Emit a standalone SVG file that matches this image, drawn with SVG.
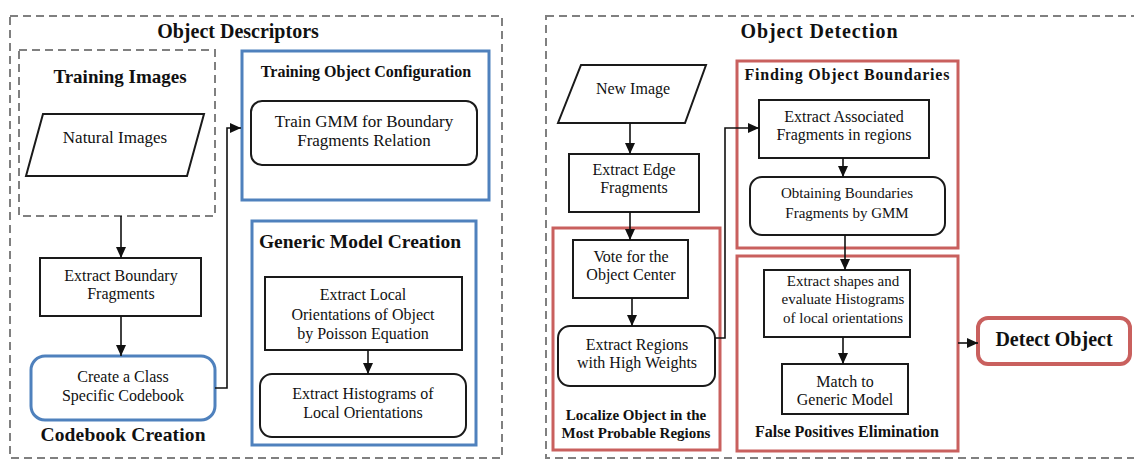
<svg xmlns="http://www.w3.org/2000/svg" width="1134" height="461" viewBox="0 0 1134 461">
<style>
text{font-family:"Liberation Serif","DejaVu Serif",serif;fill:#111;text-anchor:middle}
.t{font-size:16px}
.ts{font-size:15px}
.h{font-weight:bold;font-size:19.5px}
.hs{font-weight:bold;font-size:15px}
.box{fill:#fff;stroke:#1a1a1a;stroke-width:2}
.dash{fill:none;stroke:#808080;stroke-width:2;stroke-dasharray:8 5}
.blue{fill:none;stroke:#4f81bd;stroke-width:3}
.blueb{fill:#fff;stroke:#4f81bd;stroke-width:3}
.red{fill:none;stroke:#c9605e;stroke-width:3}
.redb{fill:#fff;stroke:#c9605e;stroke-width:4}
.c{fill:none;stroke:#111;stroke-width:1.6}
</style>
<defs>
<marker id="ah" markerUnits="userSpaceOnUse" markerWidth="11" markerHeight="10" refX="11" refY="5" orient="auto">
<path d="M0,0 L11,5 L0,10 z" fill="#111"/>
</marker>
</defs>
<rect width="1134" height="461" fill="#fff"/>

<g id="object-descriptors">
<rect class="dash" x="10" y="16" width="492" height="442"/>
<text class="h" x="238" y="38" style="font-size:20px">Object Descriptors</text>
</g>
<g id="object-detection">
<rect class="dash" x="546" y="16" width="600" height="442"/>
<text class="h" x="819" y="38" style="font-size:20px" textLength="157" lengthAdjust="spacing">Object Detection</text>
</g>

<g id="training-images">
<rect class="dash" x="19" y="50" width="196" height="166"/>
<text class="h" x="120" y="83" style="font-size:19px">Training Images</text>
</g>
<g id="natural-images">
<path class="box" d="M43,114 L204,114 L187,176 L26,176 Z"/>
<text class="t" x="115" y="143" style="font-size:17px">Natural Images</text>
</g>
<g id="training-object-configuration">
<rect class="blue" x="242" y="51" width="247" height="149"/>
<text class="hs" x="366" y="77" style="font-size:16px">Training Object Configuration</text>
</g>
<g id="train-gmm">
<rect class="box" x="251" y="101" width="226" height="64" rx="11"/>
<text class="t" x="364" y="127" style="font-size:17px">Train GMM for Boundary</text>
<text class="t" x="364" y="146" style="font-size:17px">Fragments Relation</text>
</g>
<g id="extract-boundary-fragments">
<rect class="box" x="40" y="258" width="161" height="58"/>
<text class="t" x="121" y="281">Extract Boundary</text>
<text class="t" x="121" y="299">Fragments</text>
</g>
<g id="create-codebook">
<rect class="blueb" x="31" y="356" width="184" height="64" rx="14"/>
<text class="t" x="123" y="382">Create a Class</text>
<text class="t" x="123" y="401">Specific Codebook</text>
<text class="h" x="123" y="441" textLength="165" lengthAdjust="spacing">Codebook Creation</text>
</g>
<g id="generic-model-creation">
<rect class="blue" x="252" y="221" width="224" height="224"/>
<text class="h" x="360" y="248">Generic Model Creation</text>
</g>
<g id="extract-local-orientations">
<rect class="box" x="265" y="277" width="197" height="73"/>
<text class="t" x="363" y="300">Extract Local</text>
<text class="t" x="363" y="320">Orientations of Object</text>
<text class="t" x="363" y="339">by Poisson Equation</text>
</g>
<g id="extract-histograms">
<rect class="box" x="260" y="374" width="206" height="63" rx="12"/>
<text class="t" x="363" y="399">Extract Histograms of</text>
<text class="t" x="363" y="418">Local Orientations</text>
</g>

<g id="new-image">
<path class="box" d="M581,65 L706,65 L685,123 L558,123 Z"/>
<text class="t" x="633" y="94">New Image</text>
</g>
<g id="extract-edge-fragments">
<rect class="box" x="569" y="154" width="130" height="58"/>
<text class="t" x="634" y="175">Extract Edge</text>
<text class="t" x="634" y="193">Fragments</text>
</g>
<g id="localize-object">
<rect class="red" x="553" y="228" width="167" height="222"/>
<text class="hs" x="636" y="420">Localize Object in the</text>
<text class="hs" x="636" y="438">Most Probable Regions</text>
</g>
<g id="vote-center">
<rect class="box" x="573" y="240" width="115" height="58"/>
<text class="t" x="631" y="262">Vote for the</text>
<text class="t" x="631" y="280">Object Center</text>
</g>
<g id="extract-regions">
<rect class="box" x="558" y="326" width="157" height="60" rx="12"/>
<text class="t" x="637" y="350">Extract Regions</text>
<text class="t" x="637" y="368">with High Weights</text>
</g>
<g id="finding-object-boundaries">
<rect class="red" x="737" y="61" width="221" height="187"/>
<text class="hs" x="847" y="80" style="font-size:16px" textLength="205" lengthAdjust="spacing">Finding Object Boundaries</text>
</g>
<g id="extract-associated">
<rect class="box" x="759" y="100" width="170" height="58"/>
<text class="t" x="844" y="122">Extract Associated</text>
<text class="t" x="844" y="140">Fragments in regions</text>
</g>
<g id="obtaining-boundaries">
<rect class="box" x="750" y="177" width="195" height="58" rx="12"/>
<text class="ts" x="847" y="198">Obtaining Boundaries</text>
<text class="ts" x="847" y="218">Fragments by GMM</text>
</g>
<g id="false-positives-elimination">
<rect class="red" x="737" y="256" width="221" height="195"/>
<text class="hs" x="847" y="437" style="font-size:16px">False Positives Elimination</text>
</g>
<g id="extract-shapes">
<rect class="box" x="764" y="270" width="146" height="67"/>
<text class="ts" x="843" y="286">Extract shapes and</text>
<text class="ts" x="843" y="304">evaluate Histograms</text>
<text class="ts" x="843" y="323">of local orientations</text>
</g>
<g id="match-generic">
<rect class="box" x="782" y="364" width="126" height="50"/>
<text class="t" x="845" y="387">Match to</text>
<text class="t" x="845" y="405">Generic Model</text>
</g>
<g id="detect-object">
<rect class="redb" x="978" y="318" width="152" height="46" rx="10"/>
<text class="h" x="1054" y="346" style="font-size:20px">Detect Object</text>
</g>

<g id="connectors">
<path class="c" d="M121,216 V258" marker-end="url(#ah)"/>
<path class="c" d="M121,316 V356" marker-end="url(#ah)"/>
<path class="c" d="M215,388 H227 V128 H241" marker-end="url(#ah)"/>
<path class="c" d="M368,350 V374" marker-end="url(#ah)"/>
<path class="c" d="M630,123 V154" marker-end="url(#ah)"/>
<path class="c" d="M630,212 V240" marker-end="url(#ah)"/>
<path class="c" d="M632,298 V326" marker-end="url(#ah)"/>
<path class="c" d="M715,338 H725 V128 H759" marker-end="url(#ah)"/>
<path class="c" d="M843,158 V177" marker-end="url(#ah)"/>
<path class="c" d="M845,235 V270" marker-end="url(#ah)"/>
<path class="c" d="M843,337 V364" marker-end="url(#ah)"/>
<path class="c" d="M958,343 H978" marker-end="url(#ah)"/>
</g>
</svg>
